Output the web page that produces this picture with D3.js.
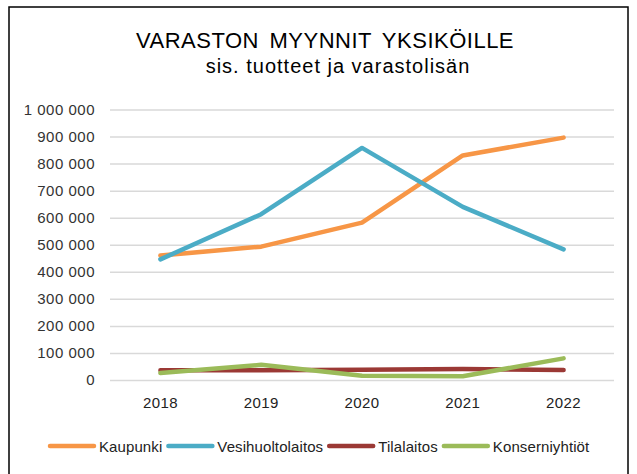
<!DOCTYPE html>
<html>
<head>
<meta charset="utf-8">
<script src="https://cdn.jsdelivr.net/npm/d3@7"></script>
<style>
  body { margin: 0; background: #fff; }
  svg { display: block; font-family: "Liberation Sans", Arial, sans-serif; }
</style>
</head>
<body>
<svg id="chart" width="637" height="474"></svg>
<script>
// Inventory sales to units, 2018-2022
const years = ['2018', '2019', '2020', '2021', '2022'];
const seriesNames = ['Kaupunki', 'Vesihuoltolaitos', 'Tilalaitos', 'Konserniyhtiöt'];
const kaupunki = [460000, 493000, 582000, 830000, 896000];
const vesihuolto = [446000, 613000, 858000, 640000, 483000];
const tilalaitos = [36000, 36000, 38000, 41000, 37000];
const konserni = [26000, 56000, 16000, 14000, 80000];
const yTicks = [0, 100000, 200000, 300000, 400000, 500000, 600000, 700000, 800000, 900000, 1000000];

const colors = ['#F79646', '#4BACC6', '#9B3935', '#9BBB59'];
const series = [kaupunki, vesihuolto, tilalaitos, konserni].map((values, i) => ({
  name: seriesNames[i], values, color: colors[i],
}));

const svg = d3.select('#chart');
const plot = { left: 110, right: 614, top: 109.5, bottom: 380 };

// chart frame
svg.append('rect')
  .attr('x', 9).attr('y', 7).attr('width', 619).attr('height', 480)
  .attr('fill', '#fff').attr('stroke', '#000').attr('stroke-width', 1.5);

// title
svg.append('text')
  .attr('x', 325).attr('y', 48)
  .attr('text-anchor', 'middle')
  .attr('font-size', 22).attr('word-spacing', 4).attr('letter-spacing', 0.5)
  .attr('fill', '#000')
  .text('VARASTON MYYNNIT YKSIKÖILLE');
svg.append('text')
  .attr('x', 338).attr('y', 73)
  .attr('text-anchor', 'middle')
  .attr('font-size', 20).attr('letter-spacing', 1).attr('fill', '#000')
  .text('sis. tuotteet ja varastolisän');

const x = d3.scaleBand().domain(years).range([plot.left, plot.right]);
const y = d3.scaleLinear().domain([0, 1000000]).range([plot.bottom, plot.top]);

const fmt = (v) => d3.format(',')(v).replace(/,/g, ' ');

// gridlines + y labels
const yAxis = d3.axisLeft(y)
  .tickValues(yTicks)
  .tickFormat(fmt)
  .tickSize(-(plot.right - plot.left))
  .tickPadding(15);
const gy = svg.append('g')
  .attr('transform', `translate(${plot.left},0)`)
  .call(yAxis);
gy.select('.domain').remove();
gy.selectAll('line').attr('stroke', '#d9d9d9').attr('stroke-width', 1.5);
gy.selectAll('text').attr('font-size', 15).attr('letter-spacing', 0.5).attr('fill', '#333')
  .attr('font-family', '"Liberation Sans", Arial, sans-serif');

// x labels
const xAxis = d3.axisBottom(x).tickSize(0).tickPadding(17);
const gx = svg.append('g')
  .attr('transform', `translate(0,${plot.bottom})`)
  .call(xAxis);
gx.select('.domain').remove();
gx.selectAll('text').attr('font-size', 15).attr('letter-spacing', 0.4).attr('fill', '#222')
  .attr('font-family', '"Liberation Sans", Arial, sans-serif');

// lines
const line = d3.line()
  .x((d, i) => x(years[i]) + x.bandwidth() / 2)
  .y((d) => y(d));

svg.append('g')
  .selectAll('path')
  .data(series)
  .join('path')
  .attr('d', (s) => line(s.values))
  .attr('fill', 'none')
  .attr('stroke', (s) => s.color)
  .attr('stroke-width', 4.5)
  .attr('stroke-linecap', 'round')
  .attr('stroke-linejoin', 'round');

// legend
const legend = svg.append('g').attr('transform', 'translate(0,446)');
let cx = 48;
series.forEach((s) => {
  legend.append('line')
    .attr('x1', cx + 2).attr('x2', cx + 46)
    .attr('y1', 0).attr('y2', 0)
    .attr('stroke', s.color).attr('stroke-width', 4.5)
    .attr('stroke-linecap', 'round');
  const t = legend.append('text')
    .attr('x', cx + 51).attr('y', 5.5)
    .attr('font-size', 15).attr('letter-spacing', 0.1).attr('fill', '#222')
    .text(s.name);
  cx += 51 + t.node().getComputedTextLength() + 4;
});
</script>
</body>
</html>
